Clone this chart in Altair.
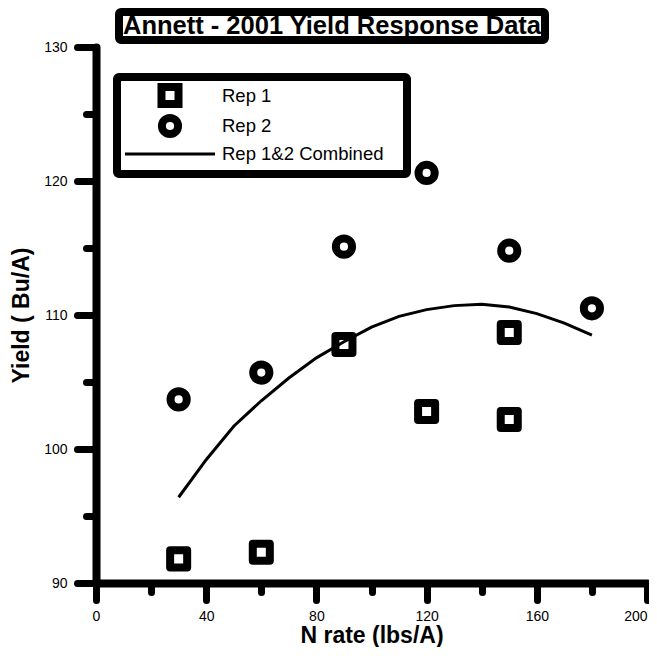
import altair as alt
import pandas as pd

# ---- data ----
rep1_n = [30, 60, 90, 120, 150, 150]
rep1_y = [91.8, 92.3, 107.8, 102.8, 108.7, 102.2]
rep2_n = [30, 60, 90, 120, 150, 180]
rep2_y = [103.7, 105.7, 115.1, 120.6, 114.8, 110.5]
fit_n = [30, 40, 50, 60, 70, 80, 90, 100, 110, 120, 130, 140, 150, 160, 170, 180]
fit_y = [96.4, 99.2, 101.7, 103.6, 105.3, 106.8, 108.0, 109.1, 109.9, 110.4,
         110.7, 110.8, 110.6, 110.1, 109.4, 108.5]
series_names = ["Rep 1", "Rep 2", "Rep 1&2 Combined"]
x_ticks = [0, 20, 40, 60, 80, 100, 120, 140, 160, 180, 200]
y_ticks = [90, 95, 100, 105, 110, 115, 120, 125, 130]
title_text = "Annett - 2001 Yield Response Data"
x_title = "N rate (lbs/A)"
y_title = "Yield ( Bu/A)"

rep1 = pd.DataFrame({"n": rep1_n, "yld": rep1_y, "series": [series_names[0]] * len(rep1_n)})
rep2 = pd.DataFrame({"n": rep2_n, "yld": rep2_y, "series": [series_names[1]] * len(rep2_n)})
fit = pd.DataFrame({"n": fit_n, "yld": fit_y, "series": [series_names[2]] * len(fit_n)})
dummy = pd.DataFrame({"a": [0]})

FONT = "Liberation Sans"
W, H = 551, 536
CIRCLE = "M0.95,0A0.95,0.95,0,1,1,-0.95,0A0.95,0.95,0,1,1,0.95,0Z"
LEG = dict(title=None, orient="none", labelFont=FONT, labelFontSize=18.5,
           labelColor="black", padding=0, labelLimit=400)

xaxis = alt.Axis(
    values=x_ticks, labelExpr="datum.value % 40 == 0 ? datum.label : ''",
    tickSize={"condition": {"test": "datum.value % 40 == 0", "value": 17}, "value": 9},
    labelAlign={"condition": {"test": "datum.value == 200", "value": "right"}, "value": "center"},
    tickWidth=7, tickCap="round", domainWidth=8, domainCap="round",
    domainColor="black", tickColor="black", labelColor="black",
    labelFont=FONT, labelFontSize=14, labelPadding=9, grid=False,
    title=x_title, titleFont=FONT, titleFontSize=23, titleFontWeight="bold",
    titleColor="black", titlePadding=1, labelFlush=False,
)
yaxis = alt.Axis(
    values=y_ticks, labelExpr="datum.value % 10 == 0 ? datum.label : ''",
    tickSize={"condition": {"test": "datum.value % 10 == 0", "value": 19}, "value": 10},
    tickWidth=7, tickCap="round", domainWidth=8, domainCap="round",
    domainColor="black", tickColor="black", labelColor="black",
    labelFont=FONT, labelFontSize=14, labelPadding=10, grid=False,
    title=y_title, titleFont=FONT, titleFontSize=23, titleFontWeight="bold",
    titleColor="black", titlePadding=10, labelFlush=False,
)
xs = alt.Scale(domain=[0, 200], nice=False, zero=False)
ys = alt.Scale(domain=[90, 130], nice=False, zero=False)
X = alt.X("n:Q", scale=xs, axis=xaxis)
Y = alt.Y("yld:Q", scale=ys, axis=yaxis)

line = alt.Chart(fit).mark_line(strokeWidth=3).encode(
    x=X, y=Y,
    color=alt.Color("series:N", scale=alt.Scale(domain=[series_names[2]], range=["black"]),
                    legend=alt.Legend(legendX=27.5, legendY=60.5, symbolType="stroke",
                                      symbolSize=8100, symbolStrokeWidth=3,
                                      labelOffset=5.5, **LEG)),
)

pts1 = alt.Chart(rep1).mark_point(
    filled=False, color="black", opacity=1, strokeWidth=8, size=290, strokeJoin="round"
).encode(
    x=X, y=Y,
    shape=alt.Shape("series:N", scale=alt.Scale(domain=[series_names[0]], range=["square"]),
                    legend=alt.Legend(legendX=61, legendY=35.5, symbolSize=290,
                                      symbolStrokeWidth=8, symbolStrokeColor="black",
                                      symbolFillColor="transparent", labelOffset=39, **LEG)),
)

pts2 = alt.Chart(rep2).mark_point(
    filled=False, shape=CIRCLE, opacity=1, strokeWidth=8, size=290
).encode(
    x=X, y=Y,
    stroke=alt.Stroke("series:N", scale=alt.Scale(domain=[series_names[1]], range=["black"]),
                      legend=alt.Legend(legendX=61, legendY=66, symbolType=CIRCLE,
                                        symbolSize=290, symbolStrokeWidth=8,
                                        symbolFillColor="transparent", labelOffset=39, **LEG)),
)

title_box = alt.Chart(dummy).mark_rect(filled=False, stroke="black", strokeWidth=8,
                                       cornerRadius=2).encode(
    x=alt.value(23), x2=alt.value(449), y=alt.value(-35), y2=alt.value(-7))
legend_box = alt.Chart(dummy).mark_rect(filled=False, stroke="black", strokeWidth=8,
                                        cornerRadius=2).encode(
    x=alt.value(21), x2=alt.value(311), y=alt.value(30), y2=alt.value(127))
title = alt.Chart(dummy).mark_text(font=FONT, fontSize=25.5, fontWeight="bold",
                                   color="black", baseline="middle", align="center").encode(
    x=alt.value(236), y=alt.value(-21), text=alt.value(title_text))

chart = alt.layer(line, pts1, pts2, title_box, legend_box, title).properties(
    width=W, height=H,
    autosize=alt.AutoSizeParams(type="none"),
    padding={"left": 88, "top": 39, "right": 2, "bottom": 64},
).configure_view(stroke=None)

chart.save("out.html", embed_options={"renderer": "svg", "actions": False})
